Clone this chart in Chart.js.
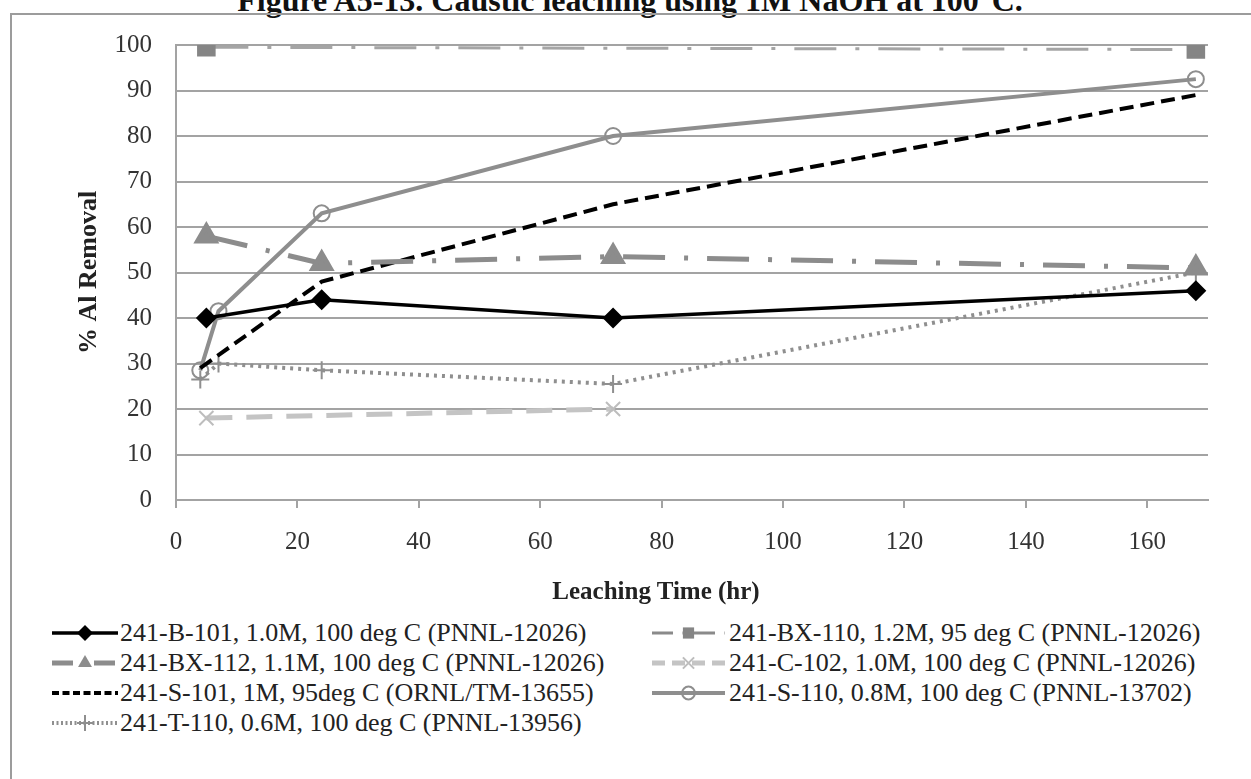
<!DOCTYPE html>
<html>
<head>
<meta charset="utf-8">
<script src="https://cdn.jsdelivr.net/npm/chart.js@4.4.1/dist/chart.umd.min.js"></script>
<style>
  body { margin: 0; background: #fff; overflow: hidden; width: 1251px; height: 779px; position: relative; }
  #title { position: absolute; left: 10px; width: 1240px; top: -16px; text-align: center; font: bold 32px "Liberation Serif", "Times New Roman", serif; line-height: 32px; color: #111; white-space: nowrap; }
  #frame { position: absolute; left: 10px; top: 13px; width: 1300px; height: 800px; border: 2px solid #9c9c9c; box-sizing: border-box; }
  #chartBox { position: absolute; left: 0; top: 0; width: 1251px; height: 615px; }
  #xTitle { position: absolute; left: 456px; width: 400px; top: 576px; text-align: center; font: bold 25px "Liberation Serif", "Times New Roman", serif; line-height: 30px; color: #222; }
  .legItem { position: absolute; height: 28px; display: flex; align-items: center; font: 26px "Liberation Serif", "Times New Roman", serif; color: #222; white-space: nowrap; }
</style>
</head>
<body>
<div id="title">Figure A5-13. Caustic leaching using 1M NaOH at 100°C.</div>
<div id="frame"></div>
<div id="chartBox"><canvas id="leachChart"></canvas></div>
<div id="xTitle">Leaching Time (hr)</div>
<div id="legend"></div>
<script>
// leaching time (hr) and % Al removal per tank sample
const b101Time = [5, 24, 72, 168];
const b101Al = [40, 44, 40, 46];
const bx110Time = [5, 168];
const bx110Al = [99.5, 99];
const bx112Time = [5, 24, 72, 168];
const bx112Al = [58, 52, 53.5, 51];
const c102Time = [5, 72];
const c102Al = [18, 20];
const s101Time = [4, 24, 72, 168];
const s101Al = [29, 48, 65, 89];
const s110Time = [4, 7, 24, 72, 168];
const s110Al = [28.5, 41.5, 63, 80, 92.5];
const t110Time = [4, 7, 24, 72, 168];
const t110Al = [26.5, 30, 28.5, 25.5, 50];

const xTicks = [0, 20, 40, 60, 80, 100, 120, 140, 160];
const yTicks = [0, 10, 20, 30, 40, 50, 60, 70, 80, 90, 100];

const gridColor = "#a3a3a3";
const serif = '"Liberation Serif", "Times New Roman", serif';

function toPoints(xs, ys) {
  return xs.map((x, i) => ({ x: x, y: ys[i] }));
}

const datasets = [
  {
    label: "241-B-101, 1.0M, 100 deg C (PNNL-12026)",
    data: toPoints(b101Time, b101Al),
    borderColor: "#000", backgroundColor: "#000", borderWidth: 3.5,
    pointStyle: "rectRot", pointRadius: 8, pointBackgroundColor: "#000", pointBorderColor: "#000"
  },
  {
    label: "241-BX-110, 1.2M, 95 deg C (PNNL-12026)",
    data: toPoints(bx110Time, bx110Al),
    borderColor: "#a5a5a5", borderWidth: 3, borderDash: [42, 19, 4, 19],
    pointStyle: "rect", pointRadius: 11, pointBackgroundColor: "#858585", pointBorderColor: "#858585"
  },
  {
    label: "241-BX-112, 1.1M, 100 deg C (PNNL-12026)",
    data: toPoints(bx112Time, bx112Al),
    borderColor: "#8c8c8c", borderWidth: 5, borderDash: [42, 19, 4, 19],
    pointStyle: "triangle", pointRadius: 10, pointBackgroundColor: "#8c8c8c", pointBorderColor: "#8c8c8c"
  },
  {
    label: "241-C-102, 1.0M, 100 deg C (PNNL-12026)",
    data: toPoints(c102Time, c102Al),
    borderColor: "#c4c4c4", borderWidth: 5, borderDash: [26, 14],
    pointStyle: "crossRot", pointRadius: 10, pointBorderWidth: 2, pointBorderColor: "#bdbdbd"
  },
  {
    label: "241-S-101, 1M, 95deg C (ORNL/TM-13655)",
    data: toPoints(s101Time, s101Al),
    borderColor: "#000", borderWidth: 4, borderDash: [14, 7],
    pointRadius: 0
  },
  {
    label: "241-S-110, 0.8M, 100 deg C (PNNL-13702)",
    data: toPoints(s110Time, s110Al),
    borderColor: "#8e8e8e", borderWidth: 4,
    pointStyle: "circle", pointRadius: 8, pointBorderWidth: 2, pointBorderColor: "#8e8e8e", pointBackgroundColor: "rgba(255,255,255,0)"
  },
  {
    label: "241-T-110, 0.6M, 100 deg C (PNNL-13956)",
    data: toPoints(t110Time, t110Al),
    borderColor: "#8f8f8f", borderWidth: 4, borderDash: [3, 5],
    pointStyle: "cross", pointRadius: 9, pointBorderWidth: 2, pointBorderColor: "#8f8f8f"
  }
];

datasets.forEach(ds => { ds.fill = false; ds.tension = 0; ds.pointHoverRadius = ds.pointRadius; });

new Chart(document.getElementById("leachChart"), {
  type: "line",
  data: { datasets: datasets },
  options: {
    responsive: true,
    maintainAspectRatio: false,
    animation: false,
    layout: { padding: { left: 10, top: 45, right: 43, bottom: 0 } },
    plugins: { legend: { display: false }, tooltip: { enabled: false } },
    scales: {
      x: {
        type: "linear", min: 0, max: 170,
        afterBuildTicks: axis => { axis.ticks = xTicks.map(v => ({ value: v })); },
        ticks: { padding: 19, color: "#333", font: { family: serif, size: 25 } },
        grid: { drawOnChartArea: false, drawTicks: true, tickLength: 8, color: gridColor, lineWidth: 2 },
        border: { color: gridColor, width: 2 },
        title: { display: false },
        afterFit: axis => { axis.height = 115; }
      },
      y: {
        min: 0, max: 100,
        afterBuildTicks: axis => { axis.ticks = yTicks.map(v => ({ value: v })); },
        ticks: { padding: 24, color: "#333", font: { family: serif, size: 25 } },
        grid: { drawTicks: false, color: gridColor, lineWidth: 2 },
        border: { color: gridColor, width: 2 },
        title: { display: true, text: "% Al Removal", color: "#222", font: { family: serif, size: 26, weight: "bold" }, padding: { top: 64, bottom: 0 } },
        afterFit: axis => { axis.width = 166; }
      }
    }
  }
});

// legend drawn as html with small line samples
function drawMarker(ctx, ds, x, y) {
  const r = Math.min(ds.pointRadius || 0, 8);
  if (!r) return;
  ctx.save();
  ctx.setLineDash([]);
  ctx.fillStyle = ds.pointBackgroundColor || ds.borderColor;
  ctx.strokeStyle = ds.pointBorderColor || ds.borderColor;
  ctx.lineWidth = ds.pointBorderWidth || 1;
  ctx.beginPath();
  switch (ds.pointStyle) {
    case "rectRot":
      ctx.moveTo(x, y - r); ctx.lineTo(x + r, y); ctx.lineTo(x, y + r); ctx.lineTo(x - r, y); ctx.closePath();
      ctx.fill(); break;
    case "rect":
      ctx.rect(x - r * 0.7, y - r * 0.7, r * 1.4, r * 1.4); ctx.fill(); break;
    case "triangle":
      ctx.moveTo(x, y - r); ctx.lineTo(x + r * 0.87, y + r * 0.5); ctx.lineTo(x - r * 0.87, y + r * 0.5); ctx.closePath();
      ctx.fill(); break;
    case "crossRot":
      ctx.moveTo(x - r * 0.7, y - r * 0.7); ctx.lineTo(x + r * 0.7, y + r * 0.7);
      ctx.moveTo(x + r * 0.7, y - r * 0.7); ctx.lineTo(x - r * 0.7, y + r * 0.7); ctx.stroke(); break;
    case "cross":
      ctx.moveTo(x, y - r); ctx.lineTo(x, y + r); ctx.moveTo(x - r, y); ctx.lineTo(x + r, y); ctx.stroke(); break;
    case "circle":
      ctx.arc(x, y, r * 0.8, 0, Math.PI * 2); ctx.stroke(); break;
  }
  ctx.restore();
}

const legendEl = document.getElementById("legend");
datasets.forEach((ds, i) => {
  const col = i % 2;
  const row = Math.floor(i / 2);
  const item = document.createElement("div");
  item.className = "legItem";
  item.style.left = (col === 0 ? 52 : 652) + "px";
  item.style.top = (619 + row * 30) + "px";
  const c = document.createElement("canvas");
  c.width = col === 0 ? 66 : 73;
  c.height = 24;
  c.style.marginRight = (col === 0 ? 2 : 4) + "px";
  const ctx = c.getContext("2d");
  ctx.strokeStyle = ds.borderColor === "#a5a5a5" ? "#8a8a8a" : ds.borderColor;
  ctx.lineWidth = ds.borderWidth;
  ctx.setLineDash(ds.borderDash ? ds.borderDash.map(v => Math.max(2, v * 0.5)) : []);
  ctx.beginPath();
  ctx.moveTo(0, 12);
  ctx.lineTo(c.width, 12);
  ctx.stroke();
  drawMarker(ctx, ds, c.width / 2, 12);
  const span = document.createElement("span");
  span.textContent = ds.label;
  item.appendChild(c);
  item.appendChild(span);
  legendEl.appendChild(item);
});
</script>
</body>
</html>
